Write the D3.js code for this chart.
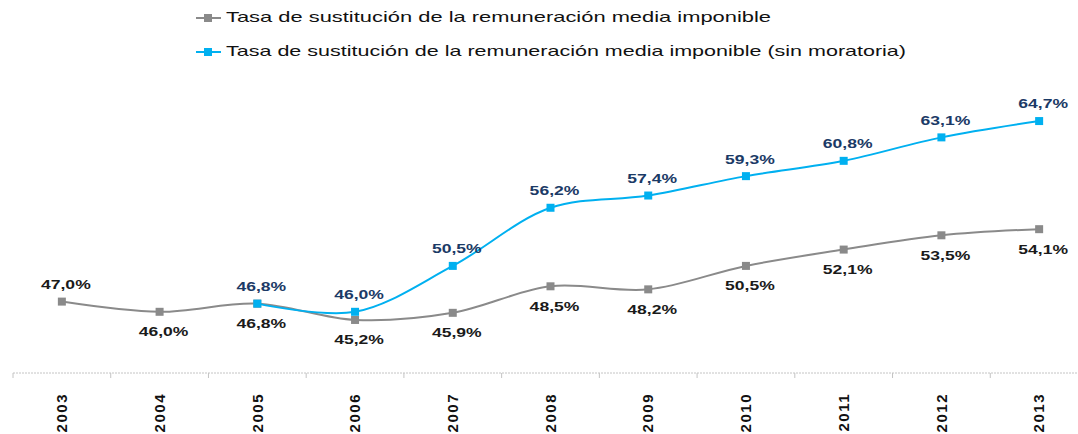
<!DOCTYPE html>
<html>
<head>
<meta charset="utf-8">
<script src="https://cdn.jsdelivr.net/npm/d3@7"></script>
<style>
  body { margin: 0; background: #fff; }
  svg { display: block; font-family: "Liberation Sans", Arial, sans-serif; }
</style>
</head>
<body>
<script>
const years = ["2003", "2004", "2005", "2006", "2007", "2008", "2009", "2010", "2011", "2012", "2013"];
const tasa = [47.0, 46.0, 46.8, 45.2, 45.9, 48.5, 48.2, 50.5, 52.1, 53.5, 54.1];
// sin moratoria only from 2005
const tasaSinMoratoria = [null, null, 46.8, 46.0, 50.5, 56.2, 57.4, 59.3, 60.8, 63.1, 64.7];
const seriesNames = [
  "Tasa de sustitución de la remuneración media imponible",
  "Tasa de sustitución de la remuneración media imponible (sin moratoria)"
];

const width = 1078, height = 434;

const svg = d3.select("body").append("svg")
  .attr("width", width)
  .attr("height", height);

const x = d3.scaleBand().domain(years).range([13, 1088]);
const y = d3.scaleLinear().domain([40, 70]).range([373, 67]);
const cx = d => x(d) + x.bandwidth() / 2;

// axis line + ticks between categories
const axisG = svg.append("g");
axisG.append("line")
  .attr("x1", 13).attr("x2", width)
  .attr("y1", y(40)).attr("y2", y(40))
  .attr("stroke", "#c4c4c4").attr("stroke-dasharray", "2,1");
axisG.selectAll("line.tick")
  .data(years.concat(["end"]))
  .join("line")
  .attr("class", "tick")
  .attr("x1", (d, i) => 13 + i * x.step())
  .attr("x2", (d, i) => 13 + i * x.step())
  .attr("y1", y(40)).attr("y2", y(40) + 5)
  .attr("stroke", "#c4c4c4");

const xaxis = d3.axisBottom(x).tickSize(0).tickPadding(0);
const ax = svg.append("g")
  .attr("transform", `translate(0,${y(40)})`)
  .call(xaxis);
ax.select(".domain").remove();
ax.selectAll("text")
  .attr("transform", "rotate(-90)")
  .attr("x", -20).attr("y", 0).attr("dy", "0.35em")
  .style("text-anchor", "end")
  .style("font-size", "15px")
  .style("font-weight", "bold")
  .style("letter-spacing", "1.5px")
  .attr("fill", "#111");

const series = [
  { name: seriesNames[0], values: tasa, color: "#8a8a8a", labelColor: "#1a1a1a" },
  { name: seriesNames[1], values: tasaSinMoratoria, color: "#00b0f0", labelColor: "#1b3a66" }
];

const line = d3.line()
  .defined(d => d.v != null)
  .x(d => cx(d.year))
  .y(d => y(d.v))
  .curve(d3.curveCatmullRom.alpha(0.5));

series.forEach((s, si) => {
  const pts = years.map((yr, i) => ({ year: yr, v: s.values[i] }));
  const g = svg.append("g");
  g.append("path")
    .datum(pts.filter(d => d.v != null))
    .attr("d", line)
    .attr("fill", "none")
    .attr("stroke", s.color)
    .attr("stroke-width", 2);
  g.selectAll("rect")
    .data(pts.filter(d => d.v != null))
    .join("rect")
    .attr("x", d => cx(d.year) - 4)
    .attr("y", d => y(d.v) - 4)
    .attr("width", 8).attr("height", 8)
    .attr("fill", s.color);
  g.selectAll("text")
    .data(pts.filter(d => d.v != null))
    .join("text")
    .attr("transform", d => {
      const above = si === 1 || d.year === "2003";
      return `translate(${cx(d.year) + 4},${y(d.v) + (above ? -16 : 21)}) scale(1.35,1)`;
    })
    .attr("text-anchor", "middle")
    .attr("dominant-baseline", "middle")
    .style("font-size", "13px")
    .style("font-weight", "bold")
    .attr("fill", s.labelColor)
    .text(d => d.v.toFixed(1).replace(".", ",") + "%");
});

// legend
const legend = svg.append("g");
series.forEach((s, i) => {
  const ly = 18 + i * 34;
  legend.append("line")
    .attr("x1", 196).attr("x2", 221)
    .attr("y1", ly).attr("y2", ly)
    .attr("stroke", s.color).attr("stroke-width", 2);
  legend.append("rect")
    .attr("x", 204).attr("y", ly - 4)
    .attr("width", 8).attr("height", 8)
    .attr("fill", s.color);
  legend.append("text")
    .attr("x", 226).attr("y", ly)
    .attr("dominant-baseline", "middle")
    .attr("textLength", i === 0 ? 545 : 680)
    .attr("lengthAdjust", "spacingAndGlyphs")
    .style("font-size", "15px")
    .attr("fill", "#111")
    .text(s.name);
});
</script>
</body>
</html>
